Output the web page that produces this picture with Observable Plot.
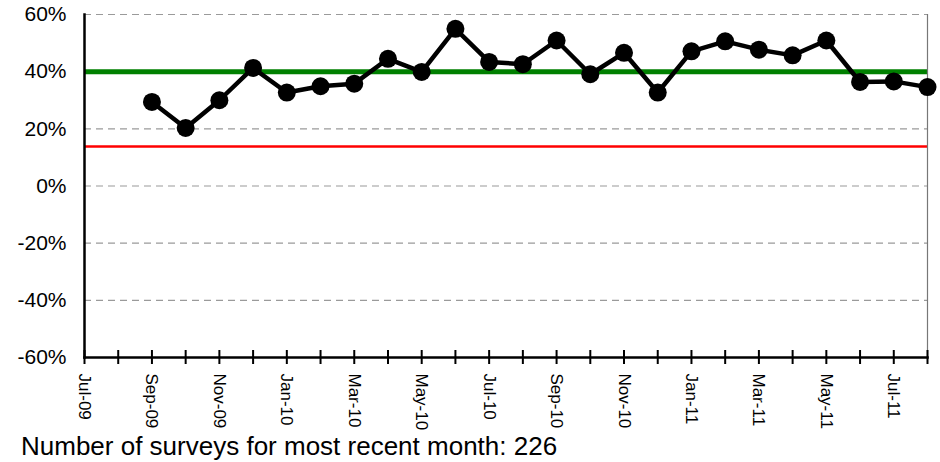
<!DOCTYPE html>
<html>
<head>
<meta charset="utf-8">
<script src="https://cdn.jsdelivr.net/npm/d3@7"></script>
<script src="https://cdn.jsdelivr.net/npm/@observablehq/plot@0.6"></script>
<style>
  html, body { margin: 0; padding: 0; background: #fff; }
  body { width: 940px; height: 462px; overflow: hidden; font-family: "Liberation Sans", Arial, sans-serif; }
  #chart svg { display: block; }
  #caption { font-size: 26px; line-height: 30px; padding-left: 21px; color: #000; white-space: nowrap; }
</style>
</head>
<body>
<div id="chart"></div>
<div id="caption">Number of surveys for most recent month: 226</div>
<script>
const months = ["Jul-09","Aug-09","Sep-09","Oct-09","Nov-09","Dec-09","Jan-10","Feb-10","Mar-10","Apr-10","May-10","Jun-10","Jul-10","Aug-10","Sep-10","Oct-10","Nov-10","Dec-10","Jan-11","Feb-11","Mar-11","Apr-11","May-11","Jun-11","Jul-11","Aug-11"];
const values = [null,null,29.4,20.3,30.0,41.3,32.7,34.9,35.8,44.5,39.9,55.0,43.4,42.6,50.9,39.1,46.6,32.7,47.1,50.6,47.7,45.7,50.9,36.4,36.6,34.6];
const labelMonths = ["Jul-09","Sep-09","Nov-09","Jan-10","Mar-10","May-10","Jul-10","Sep-10","Nov-10","Jan-11","Mar-11","May-11","Jul-11"];
const yTicks = [-60,-40,-20,0,20,40,60];
const gridTicks = [-40,-20,0,20,60];
const target = 40;
const lowerLimit = 13.8;

const data = months.map((m, i) => ({month: m, value: values[i]}));
const points = data.filter(d => d.value != null);

const chart = Plot.plot({
  width: 940,
  height: 431,
  marginTop: 14,
  marginBottom: 74,
  marginLeft: 84,
  marginRight: 13,
  style: {fontFamily: "'Liberation Sans', Arial, sans-serif", fontSize: "17px", color: "#000", background: "#fff"},
  x: {type: "point", domain: months, padding: 0, round: false, label: null},
  y: {domain: [-60, 60], label: null},
  marks: [
    Plot.ruleY(gridTicks, {stroke: "#9a9a9a", strokeWidth: 1.2, strokeDasharray: "7,5"}),
    Plot.ruleY([lowerLimit], {stroke: "#ff0000", strokeWidth: 2.5}),
    Plot.ruleY([target], {stroke: "#008000", strokeWidth: 5}),
    Plot.frame({anchor: "right", stroke: "#777", strokeWidth: 1.2}),
    Plot.line(data, {x: "month", y: "value", stroke: "#000", strokeWidth: 4.5}),
    Plot.dot(points, {x: "month", y: "value", r: 9, fill: "#000"}),
    Plot.frame({anchor: "left", stroke: "#000", strokeWidth: 2.5}),
    Plot.frame({anchor: "bottom", stroke: "#000", strokeWidth: 2.5}),
    Plot.axisY(yTicks, {tickSize: 0, tickPadding: 18, tickFormat: d => `${d}%`, fontSize: 21, label: null}),
    Plot.axisX(months, {tickSize: 14, dy: -7, tickFormat: () => "", strokeWidth: 2, label: null}),
    Plot.text(labelMonths, {x: d => d, frameAnchor: "bottom", dy: 16, rotate: 90, textAnchor: "start", lineAnchor: "middle", fontSize: 17, fill: "#000"})
  ]
});
document.getElementById("chart").appendChild(chart);
</script>
</body>
</html>
